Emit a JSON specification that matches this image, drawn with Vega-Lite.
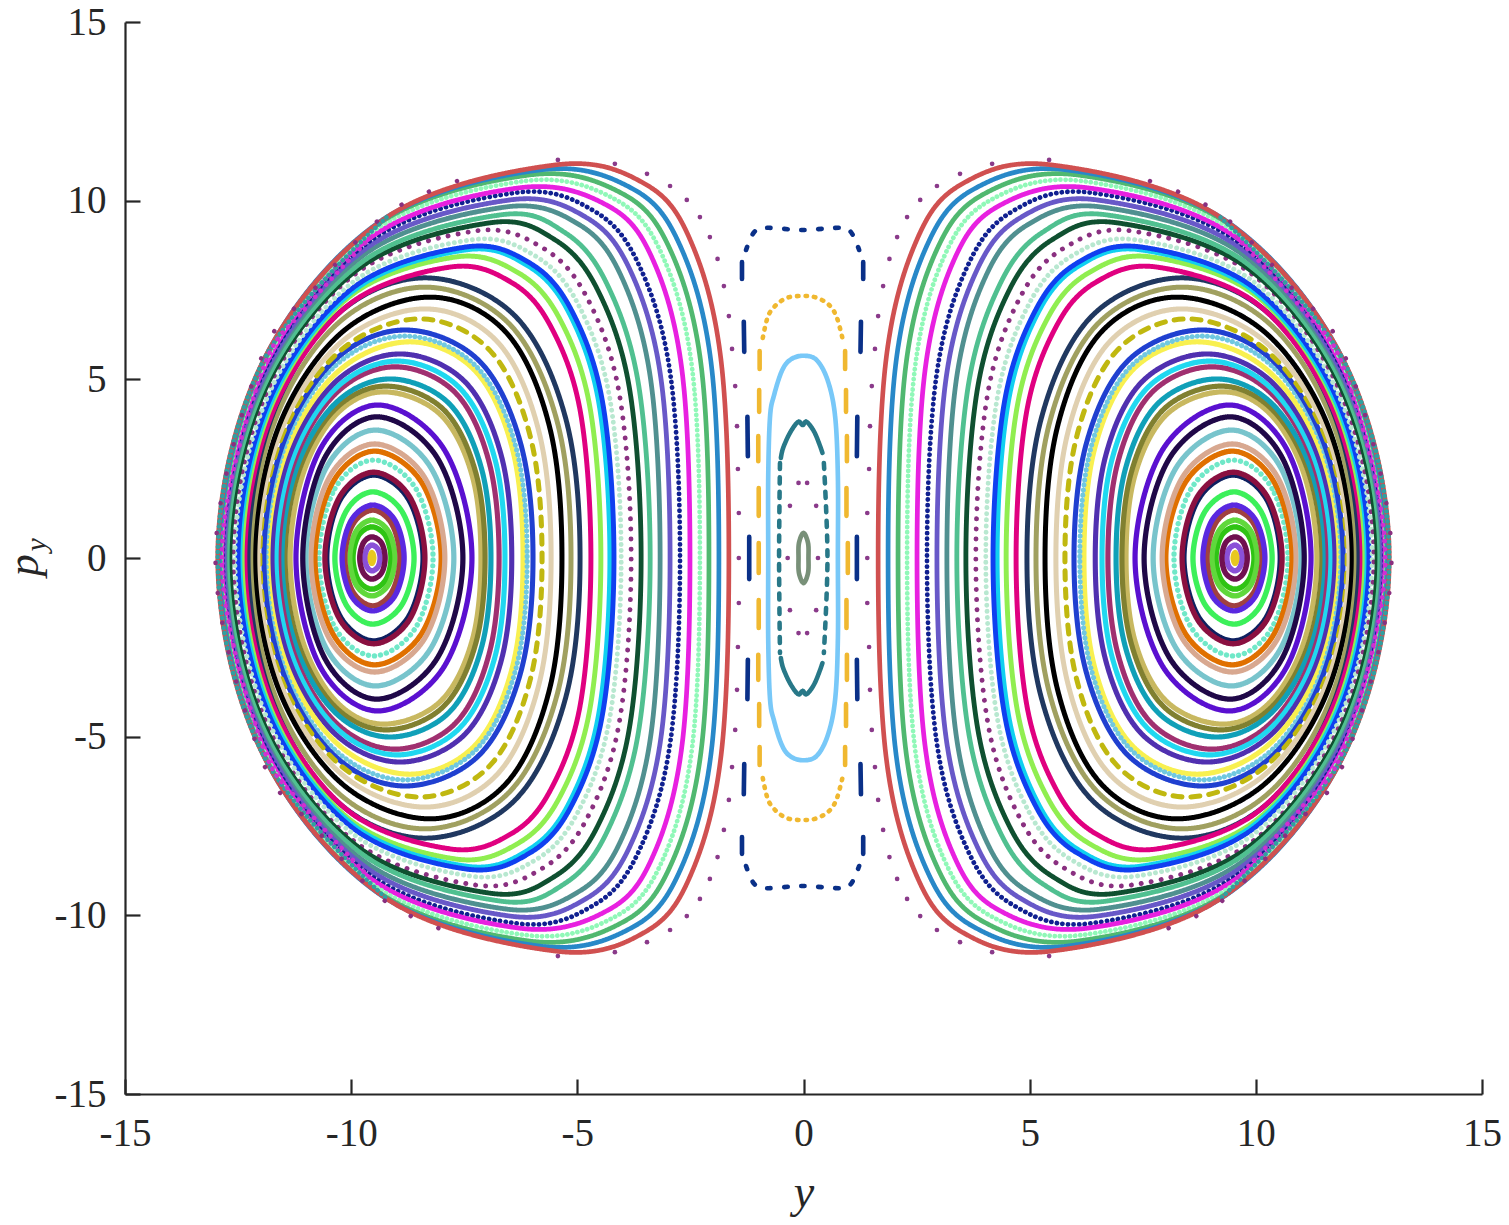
{"$schema":"https://vega.github.io/schema/vega-lite/v6.json","width":1357,"height":1072,"autosize":"none","padding":{"left":125,"top":22,"right":27,"bottom":131},"background":"white","config":{"view":{"stroke":null}},
"datasets":{"left":[
{"c":1,"y":-9.59,"p":0},{"c":1,"y":-9.54,"p":0.15},{"c":1,"y":-9.5,"p":0},{"c":1,"y":-9.54,"p":-0.15},
{"c":2,"y":-9.7,"p":0},{"c":2,"y":-9.65,"p":0.25},{"c":2,"y":-9.54,"p":0.36},{"c":2,"y":-9.41,"p":0.25},{"c":2,"y":-9.36,"p":0},{"c":2,"y":-9.41,"p":-0.25},{"c":2,"y":-9.54,"p":-0.36},{"c":2,"y":-9.65,"p":-0.25},
{"c":3,"y":-9.81,"p":0},{"c":3,"y":-9.73,"p":0.42},{"c":3,"y":-9.54,"p":0.59},{"c":3,"y":-9.33,"p":0.42},{"c":3,"y":-9.25,"p":0},{"c":3,"y":-9.33,"p":-0.42},{"c":3,"y":-9.54,"p":-0.59},{"c":3,"y":-9.73,"p":-0.42},
{"c":4,"y":-9.96,"p":0},{"c":4,"y":-9.84,"p":0.62},{"c":4,"y":-9.54,"p":0.87},{"c":4,"y":-9.24,"p":0.62},{"c":4,"y":-9.12,"p":0},{"c":4,"y":-9.24,"p":-0.62},{"c":4,"y":-9.54,"p":-0.87},{"c":4,"y":-9.84,"p":-0.62},
{"c":5,"y":-10.03,"p":0},{"c":5,"y":-9.89,"p":0.75},{"c":5,"y":-9.54,"p":1.06},{"c":5,"y":-9.18,"p":0.75},{"c":5,"y":-9.03,"p":0},{"c":5,"y":-9.18,"p":-0.75},{"c":5,"y":-9.54,"p":-1.06},{"c":5,"y":-9.89,"p":-0.75},
{"c":6,"y":-10.14,"p":0},{"c":6,"y":-9.96,"p":0.95},{"c":6,"y":-9.52,"p":1.34},{"c":6,"y":-9.1,"p":0.95},{"c":6,"y":-8.92,"p":0},{"c":6,"y":-9.1,"p":-0.95},{"c":6,"y":-9.52,"p":-1.34},{"c":6,"y":-9.96,"p":-0.95},
{"c":7,"y":-10.2,"p":0},{"c":7,"y":-10,"p":1.05},{"c":7,"y":-9.52,"p":1.48},{"c":7,"y":-9.03,"p":1.05},{"c":7,"y":-8.83,"p":0},{"c":7,"y":-9.03,"p":-1.05},{"c":7,"y":-9.52,"p":-1.48},{"c":7,"y":-10,"p":-1.05},
{"c":8,"y":-10.36,"p":0},{"c":8,"y":-10.11,"p":1.31},{"c":8,"y":-9.52,"p":1.85},{"c":8,"y":-8.88,"p":1.31},{"c":8,"y":-8.61,"p":0},{"c":8,"y":-8.88,"p":-1.31},{"c":8,"y":-9.52,"p":-1.85},{"c":8,"y":-10.11,"p":-1.31},
{"c":9,"y":-10.54,"p":0},{"c":9,"y":-10.24,"p":1.64},{"c":9,"y":-9.5,"p":2.32},{"c":9,"y":-8.73,"p":1.64},{"c":9,"y":-8.41,"p":0},{"c":9,"y":-8.73,"p":-1.64},{"c":9,"y":-9.5,"p":-2.32},{"c":9,"y":-10.24,"p":-1.64},
{"c":10,"y":-10.58,"p":0},{"c":10,"y":-10.26,"p":1.7},{"c":10,"y":-9.5,"p":2.4},{"c":10,"y":-8.7,"p":1.7},{"c":10,"y":-8.37,"p":0},{"c":10,"y":-8.7,"p":-1.7},{"c":10,"y":-9.5,"p":-2.4},{"c":10,"y":-10.26,"p":-1.7},
{"c":11,"y":-10.71,"p":0},{"c":11,"y":-10.36,"p":1.94},{"c":11,"y":-9.5,"p":2.74},{"c":11,"y":-8.57,"p":1.94},{"c":11,"y":-8.19,"p":0},{"c":11,"y":-8.57,"p":-1.94},{"c":11,"y":-9.5,"p":-2.74},{"c":11,"y":-10.36,"p":-1.94},
{"c":12,"y":-10.8,"p":0},{"c":12,"y":-10.41,"p":2.11},{"c":12,"y":-9.48,"p":2.99},{"c":12,"y":-8.44,"p":2.11},{"c":12,"y":-8.01,"p":0},{"c":12,"y":-8.44,"p":-2.11},{"c":12,"y":-9.48,"p":-2.99},{"c":12,"y":-10.41,"p":-2.11},
{"c":13,"y":-10.89,"p":0},{"c":13,"y":-10.48,"p":2.26},{"c":13,"y":-9.48,"p":3.19},{"c":13,"y":-8.38,"p":2.26},{"c":13,"y":-7.93,"p":0},{"c":13,"y":-8.38,"p":-2.26},{"c":13,"y":-9.48,"p":-3.19},{"c":13,"y":-10.48,"p":-2.26},
{"c":14,"y":-11,"p":0},{"c":14,"y":-10.55,"p":2.53},{"c":14,"y":-9.46,"p":3.58},{"c":14,"y":-8.24,"p":2.53},{"c":14,"y":-7.73,"p":0},{"c":14,"y":-8.24,"p":-2.53},{"c":14,"y":-9.46,"p":-3.58},{"c":14,"y":-10.55,"p":-2.53},
{"c":15,"y":-11.07,"p":0},{"c":15,"y":-10.59,"p":2.79},{"c":15,"y":-9.43,"p":3.95},{"c":15,"y":-8.09,"p":2.79},{"c":15,"y":-7.53,"p":0},{"c":15,"y":-8.09,"p":-2.79},{"c":15,"y":-9.43,"p":-3.95},{"c":15,"y":-10.59,"p":-2.79},
{"c":16,"y":-11.22,"p":0},{"c":16,"y":-10.69,"p":3.03},{"c":16,"y":-9.41,"p":4.28},{"c":16,"y":-7.94,"p":3.03},{"c":16,"y":-7.33,"p":0},{"c":16,"y":-7.94,"p":-3.03},{"c":16,"y":-9.41,"p":-4.28},{"c":16,"y":-10.69,"p":-3.03},
{"c":17,"y":-11.35,"p":0},{"c":17,"y":-11.07,"p":2.33},{"c":17,"y":-10.32,"p":4.03},{"c":17,"y":-9.28,"p":4.65},{"c":17,"y":-8.04,"p":4.03},{"c":17,"y":-7.33,"p":2.33},{"c":17,"y":-7.13,"p":0},{"c":17,"y":-7.33,"p":-2.33},{"c":17,"y":-8.04,"p":-4.03},{"c":17,"y":-9.28,"p":-4.65},{"c":17,"y":-10.32,"p":-4.03},{"c":17,"y":-11.07,"p":-2.33},
{"c":18,"y":-11.46,"p":0},{"c":18,"y":-11.16,"p":2.41},{"c":18,"y":-10.35,"p":4.17},{"c":18,"y":-9.23,"p":4.81},{"c":18,"y":-7.97,"p":4.17},{"c":18,"y":-7.25,"p":2.41},{"c":18,"y":-7.04,"p":0},{"c":18,"y":-7.25,"p":-2.41},{"c":18,"y":-7.97,"p":-4.17},{"c":18,"y":-9.23,"p":-4.81},{"c":18,"y":-10.35,"p":-4.17},{"c":18,"y":-11.16,"p":-2.41},
{"c":19,"y":-11.53,"p":0},{"c":19,"y":-11.21,"p":2.51},{"c":19,"y":-10.34,"p":4.34},{"c":19,"y":-9.14,"p":5.01},{"c":19,"y":-7.85,"p":4.34},{"c":19,"y":-7.12,"p":2.51},{"c":19,"y":-6.91,"p":0},{"c":19,"y":-7.12,"p":-2.51},{"c":19,"y":-7.85,"p":-4.34},{"c":19,"y":-9.14,"p":-5.01},{"c":19,"y":-10.34,"p":-4.34},{"c":19,"y":-11.21,"p":-2.51},
{"c":20,"y":-11.6,"p":0},{"c":20,"y":-11.26,"p":2.68},{"c":20,"y":-10.32,"p":4.63},{"c":20,"y":-9.03,"p":5.35},{"c":20,"y":-7.7,"p":4.63},{"c":20,"y":-6.95,"p":2.68},{"c":20,"y":-6.73,"p":0},{"c":20,"y":-6.95,"p":-2.68},{"c":20,"y":-7.7,"p":-4.63},{"c":20,"y":-9.03,"p":-5.35},{"c":20,"y":-10.32,"p":-4.63},{"c":20,"y":-11.26,"p":-2.68},
{"c":21,"y":-11.66,"p":0},{"c":21,"y":-11.3,"p":2.76},{"c":21,"y":-10.32,"p":4.77},{"c":21,"y":-8.98,"p":5.51},{"c":21,"y":-7.61,"p":4.77},{"c":21,"y":-6.82,"p":2.76},{"c":21,"y":-6.6,"p":0},{"c":21,"y":-6.82,"p":-2.76},{"c":21,"y":-7.61,"p":-4.77},{"c":21,"y":-8.98,"p":-5.51},{"c":21,"y":-10.32,"p":-4.77},{"c":21,"y":-11.3,"p":-2.76},
{"c":22,"y":-11.75,"p":0},{"c":22,"y":-11.37,"p":2.86},{"c":22,"y":-10.34,"p":4.94},{"c":22,"y":-8.92,"p":5.71},{"c":22,"y":-7.49,"p":4.94},{"c":22,"y":-6.68,"p":2.86},{"c":22,"y":-6.45,"p":0},{"c":22,"y":-6.68,"p":-2.86},{"c":22,"y":-7.49,"p":-4.94},{"c":22,"y":-8.92,"p":-5.71},{"c":22,"y":-10.34,"p":-4.94},{"c":22,"y":-11.37,"p":-2.86},
{"c":23,"y":-11.84,"p":0},{"c":23,"y":-11.42,"p":3.03},{"c":23,"y":-10.27,"p":5.24},{"c":23,"y":-8.7,"p":6.05},{"c":23,"y":-7.26,"p":5.24},{"c":23,"y":-6.43,"p":3.03},{"c":23,"y":-6.2,"p":0},{"c":23,"y":-6.43,"p":-3.03},{"c":23,"y":-7.26,"p":-5.24},{"c":23,"y":-8.7,"p":-6.05},{"c":23,"y":-10.27,"p":-5.24},{"c":23,"y":-11.42,"p":-3.03},
{"c":24,"y":-11.88,"p":0},{"c":24,"y":-11.47,"p":3.11},{"c":24,"y":-10.35,"p":5.38},{"c":24,"y":-8.81,"p":6.21},{"c":24,"y":-7.25,"p":5.38},{"c":24,"y":-6.36,"p":3.11},{"c":24,"y":-6.11,"p":0},{"c":24,"y":-6.36,"p":-3.11},{"c":24,"y":-7.25,"p":-5.38},{"c":24,"y":-8.81,"p":-6.21},{"c":24,"y":-10.35,"p":-5.38},{"c":24,"y":-11.47,"p":-3.11},
{"c":25,"y":-11.93,"p":0},{"c":25,"y":-11.51,"p":3.19},{"c":25,"y":-10.37,"p":5.53},{"c":25,"y":-8.81,"p":6.38},{"c":25,"y":-7.18,"p":5.53},{"c":25,"y":-6.25,"p":3.19},{"c":25,"y":-5.98,"p":0},{"c":25,"y":-6.25,"p":-3.19},{"c":25,"y":-7.18,"p":-5.53},{"c":25,"y":-8.81,"p":-6.38},{"c":25,"y":-10.37,"p":-5.53},{"c":25,"y":-11.51,"p":-3.19},
{"c":26,"y":-12.02,"p":0},{"c":26,"y":-11.55,"p":3.35},{"c":26,"y":-10.25,"p":5.79},{"c":26,"y":-8.48,"p":6.69},{"c":26,"y":-6.92,"p":5.79},{"c":26,"y":-6.03,"p":3.35},{"c":26,"y":-5.78,"p":0},{"c":26,"y":-6.03,"p":-3.35},{"c":26,"y":-6.92,"p":-5.79},{"c":26,"y":-8.48,"p":-6.69},{"c":26,"y":-10.25,"p":-5.79},{"c":26,"y":-11.55,"p":-3.35},
{"c":27,"y":-12.06,"p":0},{"c":27,"y":-11.57,"p":3.49},{"c":27,"y":-10.22,"p":6.04},{"c":27,"y":-8.37,"p":6.97},{"c":27,"y":-6.76,"p":6.04},{"c":27,"y":-5.84,"p":3.49},{"c":27,"y":-5.58,"p":0},{"c":27,"y":-5.84,"p":-3.49},{"c":27,"y":-6.76,"p":-6.04},{"c":27,"y":-8.37,"p":-6.97},{"c":27,"y":-10.22,"p":-6.04},{"c":27,"y":-11.57,"p":-3.49},
{"c":28,"y":-12.13,"p":0},{"c":28,"y":-11.61,"p":3.65},{"c":28,"y":-10.2,"p":6.32},{"c":28,"y":-8.26,"p":7.3},{"c":28,"y":-6.58,"p":6.32},{"c":28,"y":-5.61,"p":3.65},{"c":28,"y":-5.34,"p":0},{"c":28,"y":-5.61,"p":-3.65},{"c":28,"y":-6.58,"p":-6.32},{"c":28,"y":-8.26,"p":-7.3},{"c":28,"y":-10.2,"p":-6.32},{"c":28,"y":-11.61,"p":-3.65},
{"c":29,"y":-12.22,"p":0},{"c":29,"y":-11.7,"p":3.79},{"c":29,"y":-10.3,"p":6.56},{"c":29,"y":-8.37,"p":7.58},{"c":29,"y":-6.51,"p":6.56},{"c":29,"y":-5.44,"p":3.79},{"c":29,"y":-5.14,"p":0},{"c":29,"y":-5.44,"p":-3.79},{"c":29,"y":-6.51,"p":-6.56},{"c":29,"y":-8.37,"p":-7.58},{"c":29,"y":-10.3,"p":-6.56},{"c":29,"y":-11.7,"p":-3.79},
{"c":30,"y":-12.28,"p":0},{"c":30,"y":-11.76,"p":3.92},{"c":30,"y":-10.33,"p":6.79},{"c":30,"y":-8.37,"p":7.84},{"c":30,"y":-6.39,"p":6.79},{"c":30,"y":-5.26,"p":3.92},{"c":30,"y":-4.94,"p":0},{"c":30,"y":-5.26,"p":-3.92},{"c":30,"y":-6.39,"p":-6.79},{"c":30,"y":-8.37,"p":-7.84},{"c":30,"y":-10.33,"p":-6.79},{"c":30,"y":-11.76,"p":-3.92},
{"c":31,"y":-12.35,"p":0},{"c":31,"y":-11.74,"p":4.07},{"c":31,"y":-10.09,"p":7.05},{"c":31,"y":-7.82,"p":8.14},{"c":31,"y":-6.48,"p":7.73},{"c":31,"y":-5.6,"p":6.51},{"c":31,"y":-4.93,"p":4.07},{"c":31,"y":-4.7,"p":0},{"c":31,"y":-4.93,"p":-4.07},{"c":31,"y":-5.6,"p":-6.51},{"c":31,"y":-6.48,"p":-7.73},{"c":31,"y":-7.82,"p":-8.14},{"c":31,"y":-10.09,"p":-7.05},{"c":31,"y":-11.74,"p":-4.07},
{"c":32,"y":-12.41,"p":0},{"c":32,"y":-11.78,"p":4.21},{"c":32,"y":-10.06,"p":7.29},{"c":32,"y":-7.71,"p":8.42},{"c":32,"y":-6.33,"p":8},{"c":32,"y":-5.41,"p":6.74},{"c":32,"y":-4.72,"p":4.21},{"c":32,"y":-4.48,"p":0},{"c":32,"y":-4.72,"p":-4.21},{"c":32,"y":-5.41,"p":-6.74},{"c":32,"y":-6.33,"p":-8},{"c":32,"y":-7.71,"p":-8.42},{"c":32,"y":-10.06,"p":-7.29},{"c":32,"y":-11.78,"p":-4.21},
{"c":33,"y":-12.46,"p":0},{"c":33,"y":-11.79,"p":4.31},{"c":33,"y":-9.97,"p":7.46},{"c":33,"y":-7.48,"p":8.62},{"c":33,"y":-6.11,"p":8.19},{"c":33,"y":-5.2,"p":6.9},{"c":33,"y":-4.52,"p":4.31},{"c":33,"y":-4.28,"p":0},{"c":33,"y":-4.52,"p":-4.31},{"c":33,"y":-5.2,"p":-6.9},{"c":33,"y":-6.11,"p":-8.19},{"c":33,"y":-7.48,"p":-8.62},{"c":33,"y":-9.97,"p":-7.46},{"c":33,"y":-11.79,"p":-4.31},
{"c":34,"y":-12.5,"p":0},{"c":34,"y":-11.83,"p":4.35},{"c":34,"y":-9.99,"p":7.53},{"c":34,"y":-7.48,"p":8.7},{"c":34,"y":-6.07,"p":8.27},{"c":34,"y":-5.14,"p":6.96},{"c":34,"y":-4.44,"p":4.35},{"c":34,"y":-4.19,"p":0},{"c":34,"y":-4.44,"p":-4.35},{"c":34,"y":-5.14,"p":-6.96},{"c":34,"y":-6.07,"p":-8.27},{"c":34,"y":-7.48,"p":-8.7},{"c":34,"y":-9.99,"p":-7.53},{"c":34,"y":-11.83,"p":-4.35},
{"c":35,"y":-12.57,"p":0},{"c":35,"y":-11.87,"p":4.45},{"c":35,"y":-9.97,"p":7.71},{"c":35,"y":-7.37,"p":8.9},{"c":35,"y":-5.94,"p":8.46},{"c":35,"y":-4.99,"p":7.12},{"c":35,"y":-4.28,"p":4.45},{"c":35,"y":-4.03,"p":0},{"c":35,"y":-4.28,"p":-4.45},{"c":35,"y":-4.99,"p":-7.12},{"c":35,"y":-5.94,"p":-8.46},{"c":35,"y":-7.37,"p":-8.9},{"c":35,"y":-9.97,"p":-7.71},{"c":35,"y":-11.87,"p":-4.45},
{"c":36,"y":-12.61,"p":0},{"c":36,"y":-11.89,"p":4.58},{"c":36,"y":-9.94,"p":7.92},{"c":36,"y":-7.26,"p":9.15},{"c":36,"y":-5.78,"p":8.69},{"c":36,"y":-4.8,"p":7.32},{"c":36,"y":-4.07,"p":4.58},{"c":36,"y":-3.81,"p":0},{"c":36,"y":-4.07,"p":-4.58},{"c":36,"y":-4.8,"p":-7.32},{"c":36,"y":-5.78,"p":-8.69},{"c":36,"y":-7.26,"p":-9.15},{"c":36,"y":-9.94,"p":-7.92},{"c":36,"y":-11.89,"p":-4.58},
{"c":37,"y":-12.68,"p":0},{"c":37,"y":-11.91,"p":4.69},{"c":37,"y":-9.81,"p":8.12},{"c":37,"y":-6.93,"p":9.38},{"c":37,"y":-5.5,"p":8.91},{"c":37,"y":-4.55,"p":7.5},{"c":37,"y":-3.84,"p":4.69},{"c":37,"y":-3.59,"p":0},{"c":37,"y":-3.84,"p":-4.69},{"c":37,"y":-4.55,"p":-7.5},{"c":37,"y":-5.5,"p":-8.91},{"c":37,"y":-6.93,"p":-9.38},{"c":37,"y":-9.81,"p":-8.12},{"c":37,"y":-11.91,"p":-4.69},
{"c":38,"y":-12.74,"p":0},{"c":38,"y":-11.93,"p":4.8},{"c":38,"y":-9.73,"p":8.31},{"c":38,"y":-6.71,"p":9.6},{"c":38,"y":-5.29,"p":9.12},{"c":38,"y":-4.35,"p":7.68},{"c":38,"y":-3.64,"p":4.8},{"c":38,"y":-3.39,"p":0},{"c":38,"y":-3.64,"p":-4.8},{"c":38,"y":-4.35,"p":-7.68},{"c":38,"y":-5.29,"p":-9.12},{"c":38,"y":-6.71,"p":-9.6},{"c":38,"y":-9.73,"p":-8.31},{"c":38,"y":-11.93,"p":-4.8},
{"c":39,"y":-12.79,"p":0},{"c":39,"y":-11.96,"p":4.91},{"c":39,"y":-9.7,"p":8.5},{"c":39,"y":-6.6,"p":9.82},{"c":39,"y":-4.96,"p":9.33},{"c":39,"y":-4.02,"p":7.86},{"c":39,"y":-3.37,"p":4.91},{"c":39,"y":-3.17,"p":0},{"c":39,"y":-3.37,"p":-4.91},{"c":39,"y":-4.02,"p":-7.86},{"c":39,"y":-4.96,"p":-9.33},{"c":39,"y":-6.6,"p":-9.82},{"c":39,"y":-9.7,"p":-8.5},{"c":39,"y":-11.96,"p":-4.91},
{"c":40,"y":-12.81,"p":0},{"c":40,"y":-11.96,"p":5.01},{"c":40,"y":-9.65,"p":8.68},{"c":40,"y":-6.49,"p":10.02},{"c":40,"y":-4.79,"p":9.52},{"c":40,"y":-3.82,"p":8.02},{"c":40,"y":-3.15,"p":5.01},{"c":40,"y":-2.95,"p":0},{"c":40,"y":-3.15,"p":-5.01},{"c":40,"y":-3.82,"p":-8.02},{"c":40,"y":-4.79,"p":-9.52},{"c":40,"y":-6.49,"p":-10.02},{"c":40,"y":-9.65,"p":-8.68},{"c":40,"y":-11.96,"p":-5.01},
{"c":41,"y":-12.84,"p":0},{"c":41,"y":-11.97,"p":5.11},{"c":41,"y":-9.61,"p":8.85},{"c":41,"y":-6.38,"p":10.22},{"c":41,"y":-4.63,"p":9.71},{"c":41,"y":-3.63,"p":8.18},{"c":41,"y":-2.94,"p":5.11},{"c":41,"y":-2.73,"p":0},{"c":41,"y":-2.94,"p":-5.11},{"c":41,"y":-3.63,"p":-8.18},{"c":41,"y":-4.63,"p":-9.71},{"c":41,"y":-6.38,"p":-10.22},{"c":41,"y":-9.61,"p":-8.85},{"c":41,"y":-11.97,"p":-5.11},
{"c":42,"y":-12.86,"p":0},{"c":42,"y":-11.98,"p":5.18},{"c":42,"y":-9.57,"p":8.97},{"c":42,"y":-6.27,"p":10.36},{"c":42,"y":-4.3,"p":9.84},{"c":42,"y":-3.31,"p":8.29},{"c":42,"y":-2.68,"p":5.18},{"c":42,"y":-2.51,"p":0},{"c":42,"y":-2.68,"p":-5.18},{"c":42,"y":-3.31,"p":-8.29},{"c":42,"y":-4.3,"p":-9.84},{"c":42,"y":-6.27,"p":-10.36},{"c":42,"y":-9.57,"p":-8.97},{"c":42,"y":-11.98,"p":-5.18},
{"c":43,"y":-12.88,"p":0},{"c":43,"y":-11.98,"p":5.28},{"c":43,"y":-9.52,"p":9.14},{"c":43,"y":-6.16,"p":10.55},{"c":43,"y":-4.14,"p":10.02},{"c":43,"y":-3.11,"p":8.44},{"c":43,"y":-2.46,"p":5.28},{"c":43,"y":-2.29,"p":0},{"c":43,"y":-2.46,"p":-5.28},{"c":43,"y":-3.11,"p":-8.44},{"c":43,"y":-4.14,"p":-10.02},{"c":43,"y":-6.16,"p":-10.55},{"c":43,"y":-9.52,"p":-9.14},{"c":43,"y":-11.98,"p":-5.28},
{"c":44,"y":-12.9,"p":0},{"c":44,"y":-11.98,"p":5.36},{"c":44,"y":-9.48,"p":9.28},{"c":44,"y":-6.05,"p":10.72},{"c":44,"y":-3.98,"p":10.18},{"c":44,"y":-2.93,"p":8.58},{"c":44,"y":-2.26,"p":5.36},{"c":44,"y":-2.09,"p":0},{"c":44,"y":-2.26,"p":-5.36},{"c":44,"y":-2.93,"p":-8.58},{"c":44,"y":-3.98,"p":-10.18},{"c":44,"y":-6.05,"p":-10.72},{"c":44,"y":-9.48,"p":-9.28},{"c":44,"y":-11.98,"p":-5.36},
{"c":45,"y":-12.92,"p":0},{"c":45,"y":-11.97,"p":5.43},{"c":45,"y":-9.38,"p":9.4},{"c":45,"y":-5.83,"p":10.86},{"c":45,"y":-3.76,"p":10.32},{"c":45,"y":-2.71,"p":8.69},{"c":45,"y":-2.04,"p":5.43},{"c":45,"y":-1.87,"p":0},{"c":45,"y":-2.04,"p":-5.43},{"c":45,"y":-2.71,"p":-8.69},{"c":45,"y":-3.76,"p":-10.32},{"c":45,"y":-5.83,"p":-10.86},{"c":45,"y":-9.38,"p":-9.4},{"c":45,"y":-11.97,"p":-5.43},
{"c":46,"y":-12.95,"p":0},{"c":46,"y":-11.95,"p":5.5},{"c":46,"y":-9.22,"p":9.53},{"c":46,"y":-5.49,"p":11},{"c":46,"y":-3.48,"p":10.45},{"c":46,"y":-2.47,"p":8.8},{"c":46,"y":-1.82,"p":5.5},{"c":46,"y":-1.65,"p":0},{"c":46,"y":-1.82,"p":-5.5},{"c":46,"y":-2.47,"p":-8.8},{"c":46,"y":-3.48,"p":-10.45},{"c":46,"y":-5.49,"p":-11},{"c":46,"y":-9.22,"p":-9.53},{"c":46,"y":-11.95,"p":-5.5},
{"c":47,"y":-0.11,"p":0},{"c":47,"y":-0.1,"p":0.42},{"c":47,"y":0,"p":0.7},{"c":47,"y":0.1,"p":0.42},{"c":47,"y":0.11,"p":0},{"c":47,"y":0.1,"p":-0.42},{"c":47,"y":0,"p":-0.7},{"c":47,"y":-0.1,"p":-0.42},
{"c":48,"y":-0.78,"p":0},{"c":48,"y":-0.78,"p":2.27},{"c":48,"y":-0.74,"p":3.95},{"c":48,"y":-0.65,"p":4.56},{"c":48,"y":-0.48,"p":5.23},{"c":48,"y":-0.3,"p":5.54},{"c":48,"y":-0.02,"p":5.66},{"c":48,"y":0.29,"p":5.54},{"c":48,"y":0.54,"p":4.95},{"c":48,"y":0.7,"p":3.95},{"c":48,"y":0.76,"p":2.27},{"c":48,"y":0.76,"p":0},{"c":48,"y":0.76,"p":-2.27},{"c":48,"y":0.7,"p":-3.95},{"c":48,"y":0.54,"p":-4.95},{"c":48,"y":0.29,"p":-5.54},{"c":48,"y":-0.02,"p":-5.66},{"c":48,"y":-0.3,"p":-5.54},{"c":48,"y":-0.48,"p":-5.23},{"c":48,"y":-0.65,"p":-4.56},{"c":48,"y":-0.74,"p":-3.95},{"c":48,"y":-0.78,"p":-2.27}
],"right":[
{"c":1,"y":9.59,"p":0},{"c":1,"y":9.54,"p":0.15},{"c":1,"y":9.5,"p":0},{"c":1,"y":9.54,"p":-0.15},
{"c":2,"y":9.7,"p":0},{"c":2,"y":9.65,"p":0.25},{"c":2,"y":9.54,"p":0.36},{"c":2,"y":9.41,"p":0.25},{"c":2,"y":9.36,"p":0},{"c":2,"y":9.41,"p":-0.25},{"c":2,"y":9.54,"p":-0.36},{"c":2,"y":9.65,"p":-0.25},
{"c":3,"y":9.81,"p":0},{"c":3,"y":9.73,"p":0.42},{"c":3,"y":9.54,"p":0.59},{"c":3,"y":9.33,"p":0.42},{"c":3,"y":9.25,"p":0},{"c":3,"y":9.33,"p":-0.42},{"c":3,"y":9.54,"p":-0.59},{"c":3,"y":9.73,"p":-0.42},
{"c":4,"y":9.96,"p":0},{"c":4,"y":9.84,"p":0.62},{"c":4,"y":9.54,"p":0.87},{"c":4,"y":9.24,"p":0.62},{"c":4,"y":9.12,"p":0},{"c":4,"y":9.24,"p":-0.62},{"c":4,"y":9.54,"p":-0.87},{"c":4,"y":9.84,"p":-0.62},
{"c":5,"y":10.03,"p":0},{"c":5,"y":9.89,"p":0.75},{"c":5,"y":9.54,"p":1.06},{"c":5,"y":9.18,"p":0.75},{"c":5,"y":9.03,"p":0},{"c":5,"y":9.18,"p":-0.75},{"c":5,"y":9.54,"p":-1.06},{"c":5,"y":9.89,"p":-0.75},
{"c":6,"y":10.14,"p":0},{"c":6,"y":9.96,"p":0.95},{"c":6,"y":9.52,"p":1.34},{"c":6,"y":9.1,"p":0.95},{"c":6,"y":8.92,"p":0},{"c":6,"y":9.1,"p":-0.95},{"c":6,"y":9.52,"p":-1.34},{"c":6,"y":9.96,"p":-0.95},
{"c":7,"y":10.2,"p":0},{"c":7,"y":10,"p":1.05},{"c":7,"y":9.52,"p":1.48},{"c":7,"y":9.03,"p":1.05},{"c":7,"y":8.83,"p":0},{"c":7,"y":9.03,"p":-1.05},{"c":7,"y":9.52,"p":-1.48},{"c":7,"y":10,"p":-1.05},
{"c":8,"y":10.36,"p":0},{"c":8,"y":10.11,"p":1.31},{"c":8,"y":9.52,"p":1.85},{"c":8,"y":8.88,"p":1.31},{"c":8,"y":8.61,"p":0},{"c":8,"y":8.88,"p":-1.31},{"c":8,"y":9.52,"p":-1.85},{"c":8,"y":10.11,"p":-1.31},
{"c":9,"y":10.54,"p":0},{"c":9,"y":10.24,"p":1.64},{"c":9,"y":9.5,"p":2.32},{"c":9,"y":8.73,"p":1.64},{"c":9,"y":8.41,"p":0},{"c":9,"y":8.73,"p":-1.64},{"c":9,"y":9.5,"p":-2.32},{"c":9,"y":10.24,"p":-1.64},
{"c":10,"y":10.58,"p":0},{"c":10,"y":10.26,"p":1.7},{"c":10,"y":9.5,"p":2.4},{"c":10,"y":8.7,"p":1.7},{"c":10,"y":8.37,"p":0},{"c":10,"y":8.7,"p":-1.7},{"c":10,"y":9.5,"p":-2.4},{"c":10,"y":10.26,"p":-1.7},
{"c":11,"y":10.71,"p":0},{"c":11,"y":10.36,"p":1.94},{"c":11,"y":9.5,"p":2.74},{"c":11,"y":8.57,"p":1.94},{"c":11,"y":8.19,"p":0},{"c":11,"y":8.57,"p":-1.94},{"c":11,"y":9.5,"p":-2.74},{"c":11,"y":10.36,"p":-1.94},
{"c":12,"y":10.8,"p":0},{"c":12,"y":10.41,"p":2.11},{"c":12,"y":9.48,"p":2.99},{"c":12,"y":8.44,"p":2.11},{"c":12,"y":8.01,"p":0},{"c":12,"y":8.44,"p":-2.11},{"c":12,"y":9.48,"p":-2.99},{"c":12,"y":10.41,"p":-2.11},
{"c":13,"y":10.89,"p":0},{"c":13,"y":10.48,"p":2.26},{"c":13,"y":9.48,"p":3.19},{"c":13,"y":8.38,"p":2.26},{"c":13,"y":7.93,"p":0},{"c":13,"y":8.38,"p":-2.26},{"c":13,"y":9.48,"p":-3.19},{"c":13,"y":10.48,"p":-2.26},
{"c":14,"y":11,"p":0},{"c":14,"y":10.55,"p":2.53},{"c":14,"y":9.46,"p":3.58},{"c":14,"y":8.24,"p":2.53},{"c":14,"y":7.73,"p":0},{"c":14,"y":8.24,"p":-2.53},{"c":14,"y":9.46,"p":-3.58},{"c":14,"y":10.55,"p":-2.53},
{"c":15,"y":11.07,"p":0},{"c":15,"y":10.59,"p":2.79},{"c":15,"y":9.43,"p":3.95},{"c":15,"y":8.09,"p":2.79},{"c":15,"y":7.53,"p":0},{"c":15,"y":8.09,"p":-2.79},{"c":15,"y":9.43,"p":-3.95},{"c":15,"y":10.59,"p":-2.79},
{"c":16,"y":11.22,"p":0},{"c":16,"y":10.69,"p":3.03},{"c":16,"y":9.41,"p":4.28},{"c":16,"y":7.94,"p":3.03},{"c":16,"y":7.33,"p":0},{"c":16,"y":7.94,"p":-3.03},{"c":16,"y":9.41,"p":-4.28},{"c":16,"y":10.69,"p":-3.03},
{"c":17,"y":11.35,"p":0},{"c":17,"y":11.07,"p":2.33},{"c":17,"y":10.32,"p":4.03},{"c":17,"y":9.28,"p":4.65},{"c":17,"y":8.04,"p":4.03},{"c":17,"y":7.33,"p":2.33},{"c":17,"y":7.13,"p":0},{"c":17,"y":7.33,"p":-2.33},{"c":17,"y":8.04,"p":-4.03},{"c":17,"y":9.28,"p":-4.65},{"c":17,"y":10.32,"p":-4.03},{"c":17,"y":11.07,"p":-2.33},
{"c":18,"y":11.46,"p":0},{"c":18,"y":11.16,"p":2.41},{"c":18,"y":10.35,"p":4.17},{"c":18,"y":9.23,"p":4.81},{"c":18,"y":7.97,"p":4.17},{"c":18,"y":7.25,"p":2.41},{"c":18,"y":7.04,"p":0},{"c":18,"y":7.25,"p":-2.41},{"c":18,"y":7.97,"p":-4.17},{"c":18,"y":9.23,"p":-4.81},{"c":18,"y":10.35,"p":-4.17},{"c":18,"y":11.16,"p":-2.41},
{"c":19,"y":11.53,"p":0},{"c":19,"y":11.21,"p":2.51},{"c":19,"y":10.34,"p":4.34},{"c":19,"y":9.14,"p":5.01},{"c":19,"y":7.85,"p":4.34},{"c":19,"y":7.12,"p":2.51},{"c":19,"y":6.91,"p":0},{"c":19,"y":7.12,"p":-2.51},{"c":19,"y":7.85,"p":-4.34},{"c":19,"y":9.14,"p":-5.01},{"c":19,"y":10.34,"p":-4.34},{"c":19,"y":11.21,"p":-2.51},
{"c":20,"y":11.6,"p":0},{"c":20,"y":11.26,"p":2.68},{"c":20,"y":10.32,"p":4.63},{"c":20,"y":9.03,"p":5.35},{"c":20,"y":7.7,"p":4.63},{"c":20,"y":6.95,"p":2.68},{"c":20,"y":6.73,"p":0},{"c":20,"y":6.95,"p":-2.68},{"c":20,"y":7.7,"p":-4.63},{"c":20,"y":9.03,"p":-5.35},{"c":20,"y":10.32,"p":-4.63},{"c":20,"y":11.26,"p":-2.68},
{"c":21,"y":11.66,"p":0},{"c":21,"y":11.3,"p":2.76},{"c":21,"y":10.32,"p":4.77},{"c":21,"y":8.98,"p":5.51},{"c":21,"y":7.61,"p":4.77},{"c":21,"y":6.82,"p":2.76},{"c":21,"y":6.6,"p":0},{"c":21,"y":6.82,"p":-2.76},{"c":21,"y":7.61,"p":-4.77},{"c":21,"y":8.98,"p":-5.51},{"c":21,"y":10.32,"p":-4.77},{"c":21,"y":11.3,"p":-2.76},
{"c":22,"y":11.75,"p":0},{"c":22,"y":11.37,"p":2.86},{"c":22,"y":10.34,"p":4.94},{"c":22,"y":8.92,"p":5.71},{"c":22,"y":7.49,"p":4.94},{"c":22,"y":6.68,"p":2.86},{"c":22,"y":6.45,"p":0},{"c":22,"y":6.68,"p":-2.86},{"c":22,"y":7.49,"p":-4.94},{"c":22,"y":8.92,"p":-5.71},{"c":22,"y":10.34,"p":-4.94},{"c":22,"y":11.37,"p":-2.86},
{"c":23,"y":11.84,"p":0},{"c":23,"y":11.42,"p":3.03},{"c":23,"y":10.27,"p":5.24},{"c":23,"y":8.7,"p":6.05},{"c":23,"y":7.26,"p":5.24},{"c":23,"y":6.43,"p":3.03},{"c":23,"y":6.2,"p":0},{"c":23,"y":6.43,"p":-3.03},{"c":23,"y":7.26,"p":-5.24},{"c":23,"y":8.7,"p":-6.05},{"c":23,"y":10.27,"p":-5.24},{"c":23,"y":11.42,"p":-3.03},
{"c":24,"y":11.88,"p":0},{"c":24,"y":11.47,"p":3.11},{"c":24,"y":10.35,"p":5.38},{"c":24,"y":8.81,"p":6.21},{"c":24,"y":7.25,"p":5.38},{"c":24,"y":6.36,"p":3.11},{"c":24,"y":6.11,"p":0},{"c":24,"y":6.36,"p":-3.11},{"c":24,"y":7.25,"p":-5.38},{"c":24,"y":8.81,"p":-6.21},{"c":24,"y":10.35,"p":-5.38},{"c":24,"y":11.47,"p":-3.11},
{"c":25,"y":11.93,"p":0},{"c":25,"y":11.51,"p":3.19},{"c":25,"y":10.37,"p":5.53},{"c":25,"y":8.81,"p":6.38},{"c":25,"y":7.18,"p":5.53},{"c":25,"y":6.25,"p":3.19},{"c":25,"y":5.98,"p":0},{"c":25,"y":6.25,"p":-3.19},{"c":25,"y":7.18,"p":-5.53},{"c":25,"y":8.81,"p":-6.38},{"c":25,"y":10.37,"p":-5.53},{"c":25,"y":11.51,"p":-3.19},
{"c":26,"y":12.02,"p":0},{"c":26,"y":11.55,"p":3.35},{"c":26,"y":10.25,"p":5.79},{"c":26,"y":8.48,"p":6.69},{"c":26,"y":6.92,"p":5.79},{"c":26,"y":6.03,"p":3.35},{"c":26,"y":5.78,"p":0},{"c":26,"y":6.03,"p":-3.35},{"c":26,"y":6.92,"p":-5.79},{"c":26,"y":8.48,"p":-6.69},{"c":26,"y":10.25,"p":-5.79},{"c":26,"y":11.55,"p":-3.35},
{"c":27,"y":12.06,"p":0},{"c":27,"y":11.57,"p":3.49},{"c":27,"y":10.22,"p":6.04},{"c":27,"y":8.37,"p":6.97},{"c":27,"y":6.76,"p":6.04},{"c":27,"y":5.84,"p":3.49},{"c":27,"y":5.58,"p":0},{"c":27,"y":5.84,"p":-3.49},{"c":27,"y":6.76,"p":-6.04},{"c":27,"y":8.37,"p":-6.97},{"c":27,"y":10.22,"p":-6.04},{"c":27,"y":11.57,"p":-3.49},
{"c":28,"y":12.13,"p":0},{"c":28,"y":11.61,"p":3.65},{"c":28,"y":10.2,"p":6.32},{"c":28,"y":8.26,"p":7.3},{"c":28,"y":6.58,"p":6.32},{"c":28,"y":5.61,"p":3.65},{"c":28,"y":5.34,"p":0},{"c":28,"y":5.61,"p":-3.65},{"c":28,"y":6.58,"p":-6.32},{"c":28,"y":8.26,"p":-7.3},{"c":28,"y":10.2,"p":-6.32},{"c":28,"y":11.61,"p":-3.65},
{"c":29,"y":12.22,"p":0},{"c":29,"y":11.7,"p":3.79},{"c":29,"y":10.3,"p":6.56},{"c":29,"y":8.37,"p":7.58},{"c":29,"y":6.51,"p":6.56},{"c":29,"y":5.44,"p":3.79},{"c":29,"y":5.14,"p":0},{"c":29,"y":5.44,"p":-3.79},{"c":29,"y":6.51,"p":-6.56},{"c":29,"y":8.37,"p":-7.58},{"c":29,"y":10.3,"p":-6.56},{"c":29,"y":11.7,"p":-3.79},
{"c":30,"y":12.28,"p":0},{"c":30,"y":11.76,"p":3.92},{"c":30,"y":10.33,"p":6.79},{"c":30,"y":8.37,"p":7.84},{"c":30,"y":6.39,"p":6.79},{"c":30,"y":5.26,"p":3.92},{"c":30,"y":4.94,"p":0},{"c":30,"y":5.26,"p":-3.92},{"c":30,"y":6.39,"p":-6.79},{"c":30,"y":8.37,"p":-7.84},{"c":30,"y":10.33,"p":-6.79},{"c":30,"y":11.76,"p":-3.92},
{"c":31,"y":12.35,"p":0},{"c":31,"y":11.74,"p":4.07},{"c":31,"y":10.09,"p":7.05},{"c":31,"y":7.82,"p":8.14},{"c":31,"y":6.48,"p":7.73},{"c":31,"y":5.6,"p":6.51},{"c":31,"y":4.93,"p":4.07},{"c":31,"y":4.7,"p":0},{"c":31,"y":4.93,"p":-4.07},{"c":31,"y":5.6,"p":-6.51},{"c":31,"y":6.48,"p":-7.73},{"c":31,"y":7.82,"p":-8.14},{"c":31,"y":10.09,"p":-7.05},{"c":31,"y":11.74,"p":-4.07},
{"c":32,"y":12.41,"p":0},{"c":32,"y":11.78,"p":4.21},{"c":32,"y":10.06,"p":7.29},{"c":32,"y":7.71,"p":8.42},{"c":32,"y":6.33,"p":8},{"c":32,"y":5.41,"p":6.74},{"c":32,"y":4.72,"p":4.21},{"c":32,"y":4.48,"p":0},{"c":32,"y":4.72,"p":-4.21},{"c":32,"y":5.41,"p":-6.74},{"c":32,"y":6.33,"p":-8},{"c":32,"y":7.71,"p":-8.42},{"c":32,"y":10.06,"p":-7.29},{"c":32,"y":11.78,"p":-4.21},
{"c":33,"y":12.46,"p":0},{"c":33,"y":11.79,"p":4.31},{"c":33,"y":9.97,"p":7.46},{"c":33,"y":7.48,"p":8.62},{"c":33,"y":6.11,"p":8.19},{"c":33,"y":5.2,"p":6.9},{"c":33,"y":4.52,"p":4.31},{"c":33,"y":4.28,"p":0},{"c":33,"y":4.52,"p":-4.31},{"c":33,"y":5.2,"p":-6.9},{"c":33,"y":6.11,"p":-8.19},{"c":33,"y":7.48,"p":-8.62},{"c":33,"y":9.97,"p":-7.46},{"c":33,"y":11.79,"p":-4.31},
{"c":34,"y":12.5,"p":0},{"c":34,"y":11.83,"p":4.35},{"c":34,"y":9.99,"p":7.53},{"c":34,"y":7.48,"p":8.7},{"c":34,"y":6.07,"p":8.27},{"c":34,"y":5.14,"p":6.96},{"c":34,"y":4.44,"p":4.35},{"c":34,"y":4.19,"p":0},{"c":34,"y":4.44,"p":-4.35},{"c":34,"y":5.14,"p":-6.96},{"c":34,"y":6.07,"p":-8.27},{"c":34,"y":7.48,"p":-8.7},{"c":34,"y":9.99,"p":-7.53},{"c":34,"y":11.83,"p":-4.35},
{"c":35,"y":12.57,"p":0},{"c":35,"y":11.87,"p":4.45},{"c":35,"y":9.97,"p":7.71},{"c":35,"y":7.37,"p":8.9},{"c":35,"y":5.94,"p":8.46},{"c":35,"y":4.99,"p":7.12},{"c":35,"y":4.28,"p":4.45},{"c":35,"y":4.03,"p":0},{"c":35,"y":4.28,"p":-4.45},{"c":35,"y":4.99,"p":-7.12},{"c":35,"y":5.94,"p":-8.46},{"c":35,"y":7.37,"p":-8.9},{"c":35,"y":9.97,"p":-7.71},{"c":35,"y":11.87,"p":-4.45},
{"c":36,"y":12.61,"p":0},{"c":36,"y":11.89,"p":4.58},{"c":36,"y":9.94,"p":7.92},{"c":36,"y":7.26,"p":9.15},{"c":36,"y":5.78,"p":8.69},{"c":36,"y":4.8,"p":7.32},{"c":36,"y":4.07,"p":4.58},{"c":36,"y":3.81,"p":0},{"c":36,"y":4.07,"p":-4.58},{"c":36,"y":4.8,"p":-7.32},{"c":36,"y":5.78,"p":-8.69},{"c":36,"y":7.26,"p":-9.15},{"c":36,"y":9.94,"p":-7.92},{"c":36,"y":11.89,"p":-4.58},
{"c":37,"y":12.68,"p":0},{"c":37,"y":11.91,"p":4.69},{"c":37,"y":9.81,"p":8.12},{"c":37,"y":6.93,"p":9.38},{"c":37,"y":5.5,"p":8.91},{"c":37,"y":4.55,"p":7.5},{"c":37,"y":3.84,"p":4.69},{"c":37,"y":3.59,"p":0},{"c":37,"y":3.84,"p":-4.69},{"c":37,"y":4.55,"p":-7.5},{"c":37,"y":5.5,"p":-8.91},{"c":37,"y":6.93,"p":-9.38},{"c":37,"y":9.81,"p":-8.12},{"c":37,"y":11.91,"p":-4.69},
{"c":38,"y":12.74,"p":0},{"c":38,"y":11.93,"p":4.8},{"c":38,"y":9.73,"p":8.31},{"c":38,"y":6.71,"p":9.6},{"c":38,"y":5.29,"p":9.12},{"c":38,"y":4.35,"p":7.68},{"c":38,"y":3.64,"p":4.8},{"c":38,"y":3.39,"p":0},{"c":38,"y":3.64,"p":-4.8},{"c":38,"y":4.35,"p":-7.68},{"c":38,"y":5.29,"p":-9.12},{"c":38,"y":6.71,"p":-9.6},{"c":38,"y":9.73,"p":-8.31},{"c":38,"y":11.93,"p":-4.8},
{"c":39,"y":12.79,"p":0},{"c":39,"y":11.96,"p":4.91},{"c":39,"y":9.7,"p":8.5},{"c":39,"y":6.6,"p":9.82},{"c":39,"y":4.96,"p":9.33},{"c":39,"y":4.02,"p":7.86},{"c":39,"y":3.37,"p":4.91},{"c":39,"y":3.17,"p":0},{"c":39,"y":3.37,"p":-4.91},{"c":39,"y":4.02,"p":-7.86},{"c":39,"y":4.96,"p":-9.33},{"c":39,"y":6.6,"p":-9.82},{"c":39,"y":9.7,"p":-8.5},{"c":39,"y":11.96,"p":-4.91},
{"c":40,"y":12.81,"p":0},{"c":40,"y":11.96,"p":5.01},{"c":40,"y":9.65,"p":8.68},{"c":40,"y":6.49,"p":10.02},{"c":40,"y":4.79,"p":9.52},{"c":40,"y":3.82,"p":8.02},{"c":40,"y":3.15,"p":5.01},{"c":40,"y":2.95,"p":0},{"c":40,"y":3.15,"p":-5.01},{"c":40,"y":3.82,"p":-8.02},{"c":40,"y":4.79,"p":-9.52},{"c":40,"y":6.49,"p":-10.02},{"c":40,"y":9.65,"p":-8.68},{"c":40,"y":11.96,"p":-5.01},
{"c":41,"y":12.84,"p":0},{"c":41,"y":11.97,"p":5.11},{"c":41,"y":9.61,"p":8.85},{"c":41,"y":6.38,"p":10.22},{"c":41,"y":4.63,"p":9.71},{"c":41,"y":3.63,"p":8.18},{"c":41,"y":2.94,"p":5.11},{"c":41,"y":2.73,"p":0},{"c":41,"y":2.94,"p":-5.11},{"c":41,"y":3.63,"p":-8.18},{"c":41,"y":4.63,"p":-9.71},{"c":41,"y":6.38,"p":-10.22},{"c":41,"y":9.61,"p":-8.85},{"c":41,"y":11.97,"p":-5.11},
{"c":42,"y":12.86,"p":0},{"c":42,"y":11.98,"p":5.18},{"c":42,"y":9.57,"p":8.97},{"c":42,"y":6.27,"p":10.36},{"c":42,"y":4.3,"p":9.84},{"c":42,"y":3.31,"p":8.29},{"c":42,"y":2.68,"p":5.18},{"c":42,"y":2.51,"p":0},{"c":42,"y":2.68,"p":-5.18},{"c":42,"y":3.31,"p":-8.29},{"c":42,"y":4.3,"p":-9.84},{"c":42,"y":6.27,"p":-10.36},{"c":42,"y":9.57,"p":-8.97},{"c":42,"y":11.98,"p":-5.18},
{"c":43,"y":12.88,"p":0},{"c":43,"y":11.98,"p":5.28},{"c":43,"y":9.52,"p":9.14},{"c":43,"y":6.16,"p":10.55},{"c":43,"y":4.14,"p":10.02},{"c":43,"y":3.11,"p":8.44},{"c":43,"y":2.46,"p":5.28},{"c":43,"y":2.29,"p":0},{"c":43,"y":2.46,"p":-5.28},{"c":43,"y":3.11,"p":-8.44},{"c":43,"y":4.14,"p":-10.02},{"c":43,"y":6.16,"p":-10.55},{"c":43,"y":9.52,"p":-9.14},{"c":43,"y":11.98,"p":-5.28},
{"c":44,"y":12.9,"p":0},{"c":44,"y":11.98,"p":5.36},{"c":44,"y":9.48,"p":9.28},{"c":44,"y":6.05,"p":10.72},{"c":44,"y":3.98,"p":10.18},{"c":44,"y":2.93,"p":8.58},{"c":44,"y":2.26,"p":5.36},{"c":44,"y":2.09,"p":0},{"c":44,"y":2.26,"p":-5.36},{"c":44,"y":2.93,"p":-8.58},{"c":44,"y":3.98,"p":-10.18},{"c":44,"y":6.05,"p":-10.72},{"c":44,"y":9.48,"p":-9.28},{"c":44,"y":11.98,"p":-5.36},
{"c":45,"y":12.92,"p":0},{"c":45,"y":11.97,"p":5.43},{"c":45,"y":9.38,"p":9.4},{"c":45,"y":5.83,"p":10.86},{"c":45,"y":3.76,"p":10.32},{"c":45,"y":2.71,"p":8.69},{"c":45,"y":2.04,"p":5.43},{"c":45,"y":1.87,"p":0},{"c":45,"y":2.04,"p":-5.43},{"c":45,"y":2.71,"p":-8.69},{"c":45,"y":3.76,"p":-10.32},{"c":45,"y":5.83,"p":-10.86},{"c":45,"y":9.38,"p":-9.4},{"c":45,"y":11.97,"p":-5.43},
{"c":46,"y":12.95,"p":0},{"c":46,"y":11.95,"p":5.5},{"c":46,"y":9.22,"p":9.53},{"c":46,"y":5.49,"p":11},{"c":46,"y":3.48,"p":10.45},{"c":46,"y":2.47,"p":8.8},{"c":46,"y":1.82,"p":5.5},{"c":46,"y":1.65,"p":0},{"c":46,"y":1.82,"p":-5.5},{"c":46,"y":2.47,"p":-8.8},{"c":46,"y":3.48,"p":-10.45},{"c":46,"y":5.49,"p":-11},{"c":46,"y":9.22,"p":-9.53},{"c":46,"y":11.95,"p":-5.5}
],"seg":[
{"c":51,"g":1,"y":-1.36,"p":8.28},{"c":51,"g":1,"y":-1.36,"p":7.81},{"c":51,"g":2,"y":-1.32,"p":6.61},{"c":51,"g":2,"y":-1.31,"p":5.77},{"c":51,"g":3,"y":-1.24,"p":3.95},{"c":51,"g":3,"y":-1.23,"p":2.85},{"c":51,"g":4,"y":-1.2,"p":0.59},{"c":51,"g":4,"y":-1.2,"p":-0.59},{"c":51,"g":5,"y":-1.24,"p":-3.95},{"c":51,"g":5,"y":-1.23,"p":-2.85},{"c":51,"g":6,"y":-1.32,"p":-6.61},{"c":51,"g":6,"y":-1.31,"p":-5.77},{"c":51,"g":7,"y":-1.36,"p":-8.28},{"c":51,"g":7,"y":-1.36,"p":-7.81},
{"c":51,"g":8,"y":1.32,"p":8.28},{"c":51,"g":8,"y":1.32,"p":7.81},{"c":51,"g":9,"y":1.27,"p":6.61},{"c":51,"g":9,"y":1.26,"p":5.77},{"c":51,"g":10,"y":1.19,"p":3.95},{"c":51,"g":10,"y":1.18,"p":2.85},{"c":51,"g":11,"y":1.18,"p":0.59},{"c":51,"g":11,"y":1.18,"p":-0.59},{"c":51,"g":12,"y":1.19,"p":-3.95},{"c":51,"g":12,"y":1.18,"p":-2.85},{"c":51,"g":13,"y":1.27,"p":-6.61},{"c":51,"g":13,"y":1.26,"p":-5.77},{"c":51,"g":14,"y":1.32,"p":-8.28},{"c":51,"g":14,"y":1.32,"p":-7.81},
{"c":52,"g":15,"y":-1.27,"p":8.62},{"c":52,"g":15,"y":-1.09,"p":9.12},{"c":52,"g":15,"y":-0.81,"p":9.24},{"c":52,"g":15,"y":-0.03,"p":9.18},{"c":52,"g":15,"y":0.82,"p":9.24},{"c":52,"g":15,"y":1.05,"p":9.12},{"c":52,"g":15,"y":1.23,"p":8.62},
{"c":52,"g":16,"y":-1.27,"p":-8.62},{"c":52,"g":16,"y":-1.09,"p":-9.12},{"c":52,"g":16,"y":-0.81,"p":-9.24},{"c":52,"g":16,"y":-0.03,"p":-9.18},{"c":52,"g":16,"y":0.82,"p":-9.24},{"c":52,"g":16,"y":1.05,"p":-9.12},{"c":52,"g":16,"y":1.23,"p":-8.62},
{"c":53,"g":21,"y":-0.97,"p":5.79},{"c":53,"g":21,"y":-0.97,"p":5.29},{"c":53,"g":22,"y":-0.98,"p":4.7},{"c":53,"g":22,"y":-0.98,"p":4.09},{"c":53,"g":23,"y":-1,"p":3.41},{"c":53,"g":23,"y":-1,"p":2.71},{"c":53,"g":24,"y":-0.99,"p":1.96},{"c":53,"g":24,"y":-0.99,"p":1.18},{"c":53,"g":25,"y":-0.99,"p":0.42},{"c":53,"g":25,"y":-0.99,"p":-0.42},{"c":53,"g":26,"y":-0.99,"p":-1.96},{"c":53,"g":26,"y":-0.99,"p":-1.18},{"c":53,"g":27,"y":-1,"p":-3.41},{"c":53,"g":27,"y":-1,"p":-2.71},{"c":53,"g":28,"y":-0.98,"p":-4.7},{"c":53,"g":28,"y":-0.98,"p":-4.09},{"c":53,"g":29,"y":-0.97,"p":-5.79},{"c":53,"g":29,"y":-0.97,"p":-5.29},
{"c":53,"g":31,"y":0.92,"p":5.79},{"c":53,"g":31,"y":0.92,"p":5.29},{"c":53,"g":32,"y":0.94,"p":4.7},{"c":53,"g":32,"y":0.94,"p":4.09},{"c":53,"g":33,"y":0.96,"p":3.41},{"c":53,"g":33,"y":0.96,"p":2.71},{"c":53,"g":34,"y":0.95,"p":1.96},{"c":53,"g":34,"y":0.95,"p":1.18},{"c":53,"g":35,"y":0.98,"p":0.42},{"c":53,"g":35,"y":0.98,"p":-0.42},{"c":53,"g":36,"y":0.95,"p":-1.96},{"c":53,"g":36,"y":0.95,"p":-1.18},{"c":53,"g":37,"y":0.96,"p":-3.41},{"c":53,"g":37,"y":0.96,"p":-2.71},{"c":53,"g":38,"y":0.94,"p":-4.7},{"c":53,"g":38,"y":0.94,"p":-4.09},{"c":53,"g":39,"y":0.92,"p":-5.79},{"c":53,"g":39,"y":0.92,"p":-5.29},
{"c":54,"g":41,"y":-0.9,"p":6.16},{"c":54,"g":41,"y":-0.79,"p":6.75},{"c":54,"g":41,"y":-0.65,"p":7.02},{"c":54,"g":41,"y":-0.5,"p":7.19},{"c":54,"g":41,"y":-0.32,"p":7.3},{"c":54,"g":41,"y":-0.12,"p":7.33},{"c":54,"g":41,"y":0.08,"p":7.33},{"c":54,"g":41,"y":0.25,"p":7.3},{"c":54,"g":41,"y":0.45,"p":7.19},{"c":54,"g":41,"y":0.61,"p":7.02},{"c":54,"g":41,"y":0.74,"p":6.72},{"c":54,"g":41,"y":0.86,"p":6.16},
{"c":54,"g":42,"y":-0.9,"p":-6.16},{"c":54,"g":42,"y":-0.79,"p":-6.75},{"c":54,"g":42,"y":-0.65,"p":-7.02},{"c":54,"g":42,"y":-0.5,"p":-7.19},{"c":54,"g":42,"y":-0.32,"p":-7.3},{"c":54,"g":42,"y":-0.12,"p":-7.33},{"c":54,"g":42,"y":0.08,"p":-7.33},{"c":54,"g":42,"y":0.25,"p":-7.3},{"c":54,"g":42,"y":0.45,"p":-7.19},{"c":54,"g":42,"y":0.61,"p":-7.02},{"c":54,"g":42,"y":0.74,"p":-6.72},{"c":54,"g":42,"y":0.86,"p":-6.16},
{"c":55,"g":51,"y":-0.5,"p":2.8},{"c":55,"g":51,"y":-0.45,"p":3.08},{"c":55,"g":51,"y":-0.3,"p":3.5},{"c":55,"g":51,"y":-0.12,"p":3.81},{"c":55,"g":51,"y":-0.02,"p":3.72},{"c":55,"g":51,"y":0.07,"p":3.81},{"c":55,"g":51,"y":0.25,"p":3.5},{"c":55,"g":51,"y":0.42,"p":2.94},
{"c":55,"g":52,"y":-0.5,"p":-2.8},{"c":55,"g":52,"y":-0.45,"p":-3.08},{"c":55,"g":52,"y":-0.3,"p":-3.5},{"c":55,"g":52,"y":-0.12,"p":-3.81},{"c":55,"g":52,"y":-0.02,"p":-3.72},{"c":55,"g":52,"y":0.07,"p":-3.81},{"c":55,"g":52,"y":0.25,"p":-3.5},{"c":55,"g":52,"y":0.42,"p":-2.94},
{"c":56,"g":53,"y":-0.52,"p":2.66},{"c":56,"g":53,"y":-0.54,"p":0},{"c":56,"g":53,"y":-0.52,"p":-2.66},{"c":56,"g":54,"y":0.45,"p":2.66},{"c":56,"g":54,"y":0.53,"p":0},{"c":56,"g":54,"y":0.45,"p":-2.66},
{"c":57,"g":61,"y":-9.22,"p":9.53},{"c":57,"g":61,"y":-11.95,"p":5.5},{"c":57,"g":61,"y":-12.95,"p":0},{"c":57,"g":61,"y":-11.95,"p":-5.5},{"c":57,"g":61,"y":-9.22,"p":-9.53},
{"c":57,"g":62,"y":9.22,"p":9.53},{"c":57,"g":62,"y":11.95,"p":5.5},{"c":57,"g":62,"y":12.95,"p":0},{"c":57,"g":62,"y":11.95,"p":-5.5},{"c":57,"g":62,"y":9.22,"p":-9.53},
{"c":58,"g":63,"y":-9.57,"p":8.97},{"c":58,"g":63,"y":-11,"p":7},{"c":58,"g":63,"y":-11.98,"p":5.18},{"c":58,"g":63,"y":-12.86,"p":0},{"c":58,"g":63,"y":-11.98,"p":-5.18},{"c":58,"g":63,"y":-11,"p":-7},{"c":58,"g":63,"y":-9.57,"p":-8.97},
{"c":58,"g":64,"y":9.57,"p":8.97},{"c":58,"g":64,"y":11,"p":7},{"c":58,"g":64,"y":11.98,"p":5.18},{"c":58,"g":64,"y":12.86,"p":0},{"c":58,"g":64,"y":11.98,"p":-5.18},{"c":58,"g":64,"y":11,"p":-7},{"c":58,"g":64,"y":9.57,"p":-8.97},
{"c":59,"g":65,"y":-7.66,"p":10.55},{"c":59,"g":65,"y":-9.25,"p":9.6},{"c":59,"g":65,"y":-10.8,"p":7.55},{"c":59,"g":65,"y":-12,"p":5.55},{"c":59,"g":65,"y":-13,"p":0},{"c":59,"g":65,"y":-12,"p":-5.55},{"c":59,"g":65,"y":-10.8,"p":-7.55},{"c":59,"g":65,"y":-9.25,"p":-9.6},{"c":59,"g":65,"y":-7.66,"p":-10.55},
{"c":59,"g":66,"y":7.66,"p":10.55},{"c":59,"g":66,"y":9.25,"p":9.6},{"c":59,"g":66,"y":10.8,"p":7.55},{"c":59,"g":66,"y":12,"p":5.55},{"c":59,"g":66,"y":13,"p":0},{"c":59,"g":66,"y":12,"p":-5.55},{"c":59,"g":66,"y":10.8,"p":-7.55},{"c":59,"g":66,"y":9.25,"p":-9.6},{"c":59,"g":66,"y":7.66,"p":-10.55}
],"dots":[
{"y":-5.43,"p":11.14},{"y":-4.17,"p":11.03},{"y":-3.46,"p":10.75},{"y":-2.95,"p":10.41},{"y":-2.58,"p":10.02},{"y":-2.29,"p":9.54},{"y":-2.07,"p":8.98},{"y":-1.9,"p":8.37},{"y":-1.76,"p":7.61},{"y":-1.65,"p":6.77},{"y":-1.58,"p":5.85},{"y":-1.51,"p":4.81},{"y":-1.47,"p":3.69},{"y":-1.45,"p":2.49},{"y":-1.43,"p":1.26},{"y":-1.43,"p":0},
{"y":-5.43,"p":-11.14},{"y":-4.17,"p":-11.03},{"y":-3.46,"p":-10.75},{"y":-2.95,"p":-10.41},{"y":-2.58,"p":-10.02},{"y":-2.29,"p":-9.54},{"y":-2.07,"p":-8.98},{"y":-1.9,"p":-8.37},{"y":-1.76,"p":-7.61},{"y":-1.65,"p":-6.77},{"y":-1.58,"p":-5.85},{"y":-1.51,"p":-4.81},{"y":-1.47,"p":-3.69},{"y":-1.45,"p":-2.49},{"y":-1.43,"p":-1.26},
{"y":5.43,"p":11.14},{"y":4.17,"p":11.03},{"y":3.46,"p":10.75},{"y":2.95,"p":10.41},{"y":2.58,"p":10.02},{"y":2.29,"p":9.54},{"y":2.07,"p":8.98},{"y":1.9,"p":8.37},{"y":1.76,"p":7.61},{"y":1.65,"p":6.77},{"y":1.58,"p":5.85},{"y":1.51,"p":4.81},{"y":1.47,"p":3.69},{"y":1.45,"p":2.49},{"y":1.41,"p":1.26},{"y":1.41,"p":0},
{"y":5.43,"p":-11.14},{"y":4.17,"p":-11.03},{"y":3.46,"p":-10.75},{"y":2.95,"p":-10.41},{"y":2.58,"p":-10.02},{"y":2.29,"p":-9.54},{"y":2.07,"p":-8.98},{"y":1.9,"p":-8.37},{"y":1.76,"p":-7.61},{"y":1.65,"p":-6.77},{"y":1.58,"p":-5.85},{"y":1.51,"p":-4.81},{"y":1.47,"p":-3.69},{"y":1.45,"p":-2.49},{"y":1.41,"p":-1.26},
{"y":-0.11,"p":2.1},{"y":0.08,"p":2.1},{"y":-0.3,"p":1.46},{"y":0.28,"p":1.46},{"y":-0.35,"p":0},{"y":0.32,"p":0},{"y":-0.3,"p":-1.46},{"y":0.28,"p":-1.46},{"y":-0.11,"p":-2.1},{"y":0.08,"p":-2.1}
]},
"encoding":{"x":{"field":"y","type":"quantitative","scale":{"domain":[-15,15],"nice":false,"zero":false},"axis":{"values":[-15,-10,-5,0,5,10,15],"title":"y","titleFont":"Liberation Serif","titleFontStyle":"italic","titleFontWeight":"normal","titleFontSize":46,"titleColor":"#262626","titlePadding":17,"labelFont":"Liberation Serif","labelFontSize":39,"labelColor":"#262626","labelPadding":35,"labelFlush":false,"labelOverlap":false,"labelBound":false,"labelExpr":"datum.value","grid":false,"domainColor":"#262626","domainWidth":2.2,"tickColor":"#262626","tickWidth":2.2,"tickSize":-15}},
"y":{"field":"p","type":"quantitative","scale":{"domain":[-15,15],"nice":false,"zero":false},"axis":{"values":[-15,-10,-5,0,5,10,15],"title":null,"labelFont":"Liberation Serif","labelFontSize":39,"labelColor":"#262626","labelPadding":34,"labelFlush":false,"labelOverlap":false,"labelBound":false,"labelExpr":"datum.value","grid":false,"domainColor":"#262626","domainWidth":2.2,"tickColor":"#262626","tickWidth":2.2,"tickSize":-15}}},
"layer":[
{"encoding":{"order":{"value":null},
"color":{"field":"c","type":"nominal","legend":null,"scale":{"domain":[1,2,3,4,5,6,7,8,9,10,11,12,13,14,15,16,17,18,19,20,21,22,23,24,25,26,27,28,29,30,31,32,33,34,35,36,37,38,39,40,41,42,43,44,45,46,47,48,51,52,53,54,55,56,57,58,59],"range":["#e8c820","#8a50d8","#701050","#2fc414","#60d83c","#a04040","#5a28e0","#3cf05a","#0f2060","#8a1040","#70e8c8","#e07000","#d8a890","#78c4cc","#200848","#5a10d0","#c8b860","#808030","#10a0b8","#a03070","#20d8f0","#5030b0","#f8f050","#70c8e0","#2040d0","#c0b810","#e0d0b0","#000000","#a0a060","#203860","#e00080","#90ee50","#10d0f0","#1040f0","#b8e8d0","#8a3080","#0f5030","#50c090","#509090","#6858c8","#102090","#e820e0","#90f8b8","#50b870","#2888c8","#d05050","#789078","#78c8f8","#0a3088","#0a3088","#f0b830","#f0b830","#287888","#287888","#30a0a0","#d030d0","#8a3080"]}},
"strokeWidth":{"field":"c","type":"ordinal","legend":null,"scale":{"domain":[1,2,3,4,5,6,7,8,9,10,11,12,13,14,15,16,17,18,19,20,21,22,23,24,25,26,27,28,29,30,31,32,33,34,35,36,37,38,39,40,41,42,43,44,45,46,47,48,51,52,53,54,55,56,57,58,59],"range":[5.5,4.5,4.5,4.5,4.5,4.5,4.5,4.5,3,3.5,4,4.5,4.5,4.5,4.5,8,4.5,4.5,4.5,4,4,4.5,4.5,3.5,4,4,4,4,4,4.5,4,4,3,3.5,3.5,3.5,3.5,3.5,3.5,3.5,3.5,3.5,3.5,3.5,3.5,3.5,4.5,4.5,4.5,5.5,4.5,5,4.5,4.5,4.5,3,4]}},
"strokeDash":{"field":"c","type":"nominal","legend":null,"scale":{"domain":[1,2,3,4,5,6,7,8,9,10,11,12,13,14,15,16,17,18,19,20,21,22,23,24,25,26,27,28,29,30,31,32,33,34,35,36,37,38,39,40,41,42,43,44,45,46,47,48,51,52,53,54,55,56,57,58,59],"range":[[1,0],[1,0],[1,0],[1,0],[1,0],[1,0],[1,0],[1,0],[1,0],[1,0],[0.1,6],[1,0],[1,0],[1,0],[1,0],[1,0],[1,0],[1,0],[1,0],[1,0],[1,0],[1,0],[1,0],[0.1,5],[1,0],[9,9],[1,0],[1,0],[1,0],[1,0],[1,0],[1,0],[1,0],[1,0],[0.1,6],[0.1,10],[1,0],[1,0],[1,0],[1,0],[0.1,5.5],[1,0],[0.1,5],[1,0],[1,0],[1,0],[1,0],[1,0],[1,0],[3.5,13.5],[1,0],[1.5,7],[1,0],[6,8.5],[0.1,5],[0.1,8],[0.1,30]]}}},
"layer":[
{"data":{"name":"left"},"mark":{"type":"line","interpolate":"cardinal-closed","strokeCap":"round","clip":false}},
{"data":{"name":"right"},"mark":{"type":"line","interpolate":"cardinal-closed","strokeCap":"round","clip":false}},
{"data":{"name":"seg"},"mark":{"type":"line","interpolate":"cardinal","strokeCap":"round","clip":false},"encoding":{"detail":{"field":"g"}}}
]},
{"data":{"name":"dots"},"mark":{"type":"circle","size":22,"color":"#8a3a8a","opacity":1}},
{"data":{"values":[{"y":-17.2,"p":-0.2,"t":"p"}]},"mark":{"type":"text","font":"Liberation Serif","fontStyle":"italic","fontSize":44,"angle":270,"align":"center","baseline":"middle","color":"#262626"},"encoding":{"text":{"field":"t"}}},
{"data":{"values":[{"y":-16.95,"p":0.37,"t":"y"}]},"mark":{"type":"text","font":"Liberation Serif","fontStyle":"italic","fontSize":30,"angle":270,"align":"center","baseline":"middle","color":"#262626"},"encoding":{"text":{"field":"t"}}}
]}
